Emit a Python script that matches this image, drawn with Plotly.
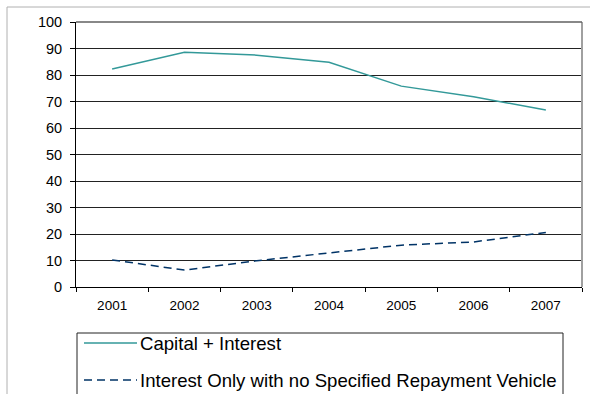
import plotly.graph_objects as go

years = ["2001", "2002", "2003", "2004", "2005", "2006", "2007"]
capital_interest = [82.3, 88.6, 87.5, 84.8, 75.8, 71.8, 66.8]
interest_only = [10.2, 6.4, 9.9, 12.8, 15.8, 17.0, 20.6]
y_ticks = [0, 10, 20, 30, 40, 50, 60, 70, 80, 90, 100]
series_names = ["Capital + Interest",
                "Interest Only with no Specified Repayment Vehicle"]
series_colors = ["#339999", "#003366"]
series_dash = ["solid", "8px,5px"]

fig = go.Figure()
fig.add_trace(go.Scatter(
    x=years, y=capital_interest, mode="lines", name=series_names[0],
    line=dict(color=series_colors[0], width=1.5, dash=series_dash[0])))
fig.add_trace(go.Scatter(
    x=years, y=interest_only, mode="lines", name=series_names[1],
    line=dict(color=series_colors[1], width=1.5, dash=series_dash[1])))

# plot area in pixels: x 76..582, y 22..287
L, R, T, B = 76, 582, 22, 287
W, H = R - L, B - T


def px_x(p):
    return (p - L) / W


def px_y(p):
    return (B - p) / H


shapes = [
    # right border of plot area
    dict(type="line", xref="paper", yref="paper",
         x0=1, x1=1, y0=0, y1=1, line=dict(color="#a0a0a0", width=2)),
    # top grid line (gray)
    dict(type="line", xref="paper", yref="paper",
         x0=0, x1=1, y0=1, y1=1, line=dict(color="#606060", width=1.5)),
    # outer chart border (top + left)
    dict(type="line", xref="paper", yref="paper",
         x0=px_x(7), x1=px_x(590), y0=px_y(7), y1=px_y(7),
         line=dict(color="#b0b0b0", width=1)),
    dict(type="line", xref="paper", yref="paper",
         x0=px_x(7), x1=px_x(7), y0=px_y(7), y1=px_y(394),
         line=dict(color="#b0b0b0", width=1)),
    # legend box
    dict(type="rect", xref="paper", yref="paper",
         x0=px_x(77), x1=px_x(563), y0=px_y(333), y1=px_y(400),
         line=dict(color="#222222", width=1), fillcolor="rgba(0,0,0,0)"),
]
annotations = []
legend_rows = [343, 380]
for name, col, dash, ry in zip(series_names, series_colors, series_dash, legend_rows):
    shapes.append(dict(type="line", xref="paper", yref="paper",
                       x0=px_x(84), x1=px_x(137), y0=px_y(ry), y1=px_y(ry),
                       line=dict(color=col, width=1.5, dash=dash)))
    annotations.append(dict(xref="paper", yref="paper", x=px_x(138), y=px_y(ry),
                            xanchor="left", yanchor="middle", showarrow=False,
                            text=name, font=dict(size=18.6, color="black")))

fig.update_layout(
    template="none",
    width=590, height=394,
    margin=dict(l=L, r=590 - R, t=T, b=394 - B, autoexpand=False),
    paper_bgcolor="white", plot_bgcolor="white",
    font=dict(family="Liberation Sans, Arial, sans-serif", color="black", size=13),
    showlegend=False,
    xaxis=dict(
        type="category", range=[-0.5, 6.5], tickson="boundaries",
        ticks="outside", ticklen=4, tickcolor="black", tickwidth=1,
        showline=True, linecolor="black", linewidth=1,
        showgrid=False, tickfont=dict(size=13.5), fixedrange=True,
        ticklabelstandoff=6, automargin=False),
    yaxis=dict(
        range=[0, 100], tickvals=y_ticks, ticks="outside", ticklen=5,
        tickcolor="black", tickwidth=1, showline=True, linecolor="black",
        linewidth=1, showgrid=True, gridcolor="#222222", gridwidth=1,
        zeroline=False, tickfont=dict(size=14.5), fixedrange=True,
        ticklabelstandoff=5, automargin=False),
    shapes=shapes,
    annotations=annotations,
)

fig.write_html("out.html")
